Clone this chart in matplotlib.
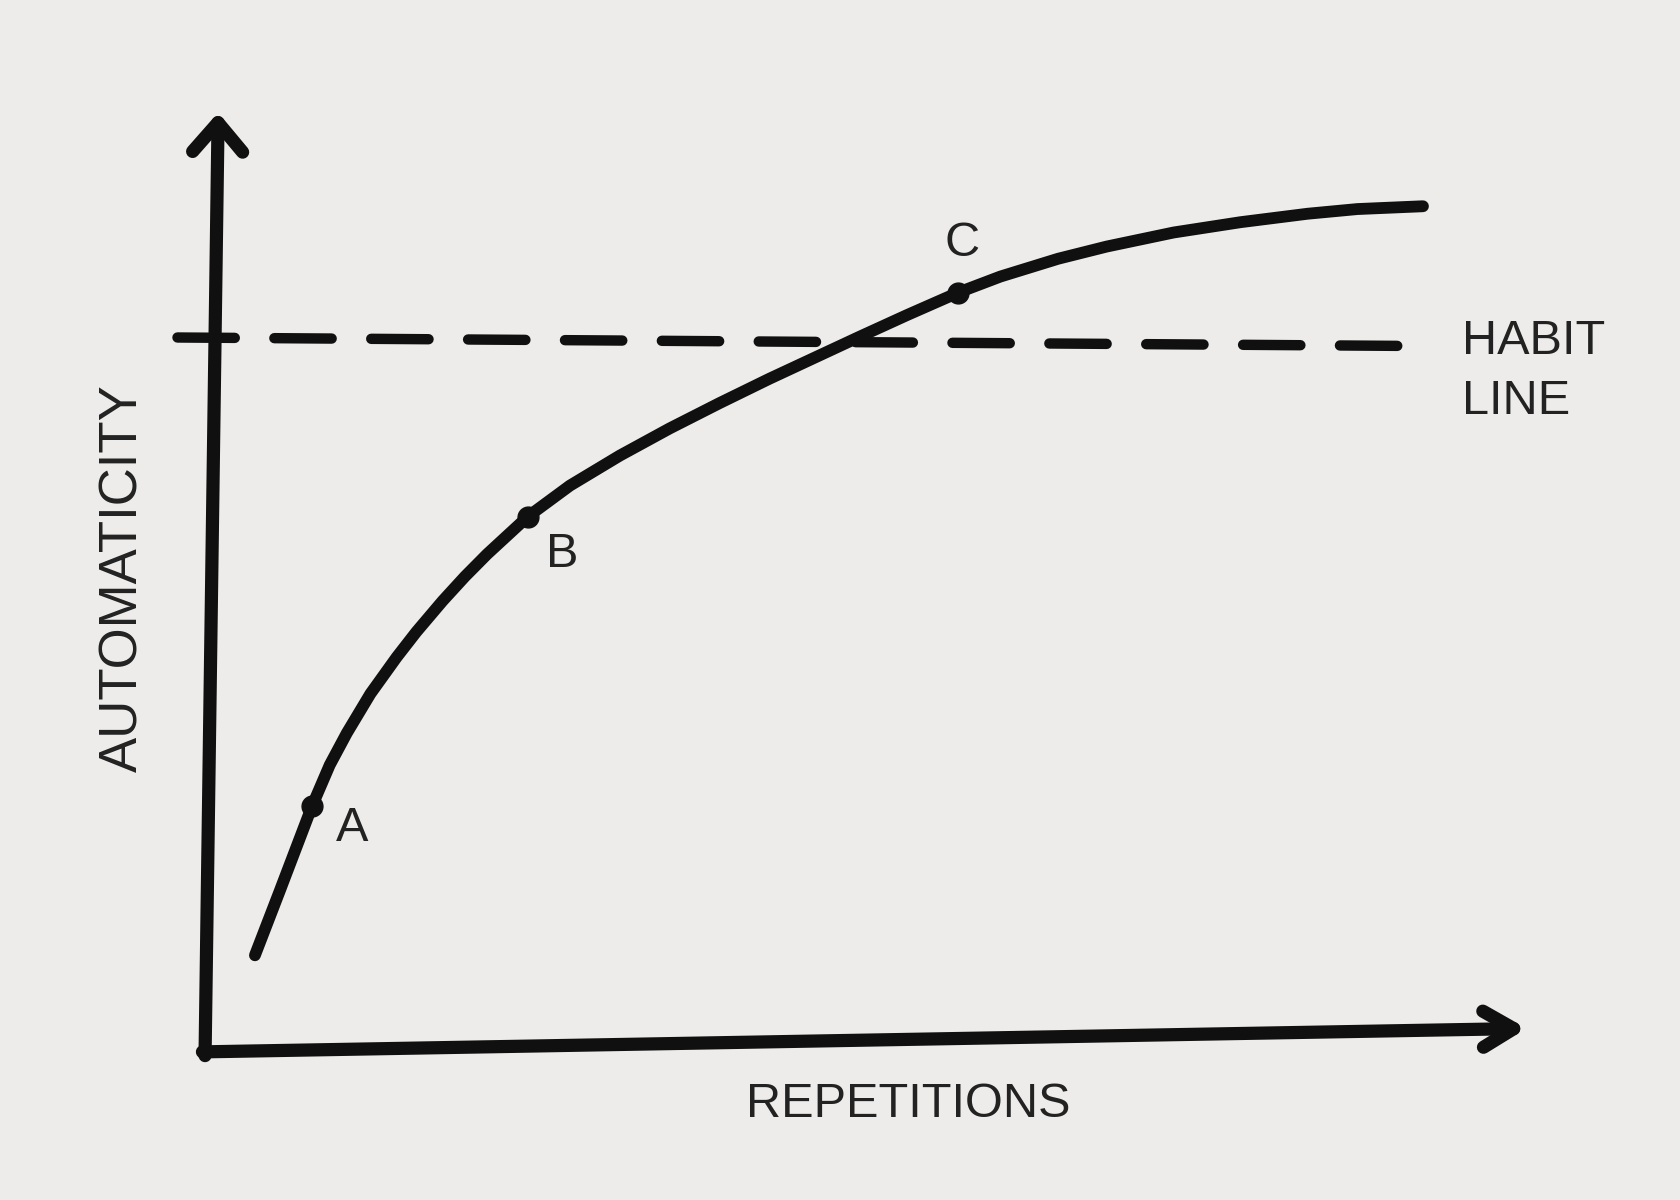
import matplotlib.pyplot as plt

plt.rcParams.update(
    {
        "font.family": ["Liberation Sans", "DejaVu Sans"],
        "font.size": 34,
        "text.color": "#222222",
    }
)

# Automaticity curve (repetitions vs automaticity, 0-100 scale)
repetitions = [3.5, 5.4, 7.85, 9.2, 10.5, 12.3, 14.3, 15.8, 17.8, 19.5, 21.2, 24.3,
               27.5, 31.3, 35.1, 38.9, 42.7, 45.0, 49.6, 53.2, 57.1, 60.3, 64.7, 68.4,
               73.5, 78.6, 83.7, 87.5, 92.5]
automaticity = [10.1, 17.0, 26.0, 30.4, 33.8, 38.0, 41.9, 44.6, 47.9, 50.5, 52.9, 56.9,
                60.2, 63.4, 66.3, 69.0, 71.6, 73.1, 76.1, 78.4, 80.8, 82.5, 84.4, 85.7,
                87.2, 88.3, 89.2, 89.7, 90.0]

milestones = ["A", "B", "C"]
milestone_x = [7.85, 24.3, 57.1]
milestone_y = [26.0, 56.9, 80.8]

# the habit line is drawn slightly off level in the sketch
habit_x = [-2.4, 91.3]
habit_y = [76.0, 75.1]

ink = "#101010"
paper = "#edecea"

fig = plt.figure(figsize=(16.8, 12), dpi=100, facecolor=paper)
ax = fig.add_axes([0.1244, 0.125, 0.7812, 0.78125])
ax.set_xlim(0, 100)
ax.set_ylim(0, 100)
ax.axis("off")

# hand-drawn style axes with open arrow heads
arrow_kw = dict(arrowstyle="->, head_length=1.05, head_width=0.9", lw=9.5, color=ink,
                capstyle="round", joinstyle="round", mutation_scale=20,
                shrinkA=0, shrinkB=0)
ax.annotate("", xy=(0.007, 1.0), xytext=(-0.003, -0.006), xycoords="axes fraction",
            arrowprops=arrow_kw, annotation_clip=False)
ax.annotate("", xy=(1.004, 0.023), xytext=(-0.005, -0.002), xycoords="axes fraction",
            arrowprops=dict(arrow_kw, arrowstyle="->, head_length=1.1, head_width=0.65"),
            annotation_clip=False)

# habit line
ax.plot(habit_x, habit_y, color=ink, lw=7.5, linestyle=(0, (5.5, 3.8)),
        dash_capstyle="round", clip_on=False)

# curve
ax.plot(repetitions, automaticity, color=ink, lw=8.5, solid_capstyle="round",
        solid_joinstyle="round")
ax.plot(milestone_x, milestone_y, "o", color=ink, markersize=15, zorder=3)

offsets = [(29, -16), (25, -27), (3, 35)]
for name, x, y, off in zip(milestones, milestone_x, milestone_y, offsets):
    ax.annotate(name, (x, y), xytext=off, textcoords="offset points",
                ha="center", va="center", fontsize=35)

ax.text(95.5, 75.6, "HABIT", ha="left", va="center", fontsize=35, clip_on=False)
ax.text(95.5, 69.2, "LINE", ha="left", va="center", fontsize=35, clip_on=False)

ax.text(-6.5, 50.3, "AUTOMATICITY", rotation=90, ha="center", va="center",
        fontsize=38, clip_on=False)
ax.text(53.3, -5.8, "REPETITIONS", ha="center", va="center", fontsize=35,
        clip_on=False)

fig.savefig("out.png", dpi=100, facecolor=paper)
